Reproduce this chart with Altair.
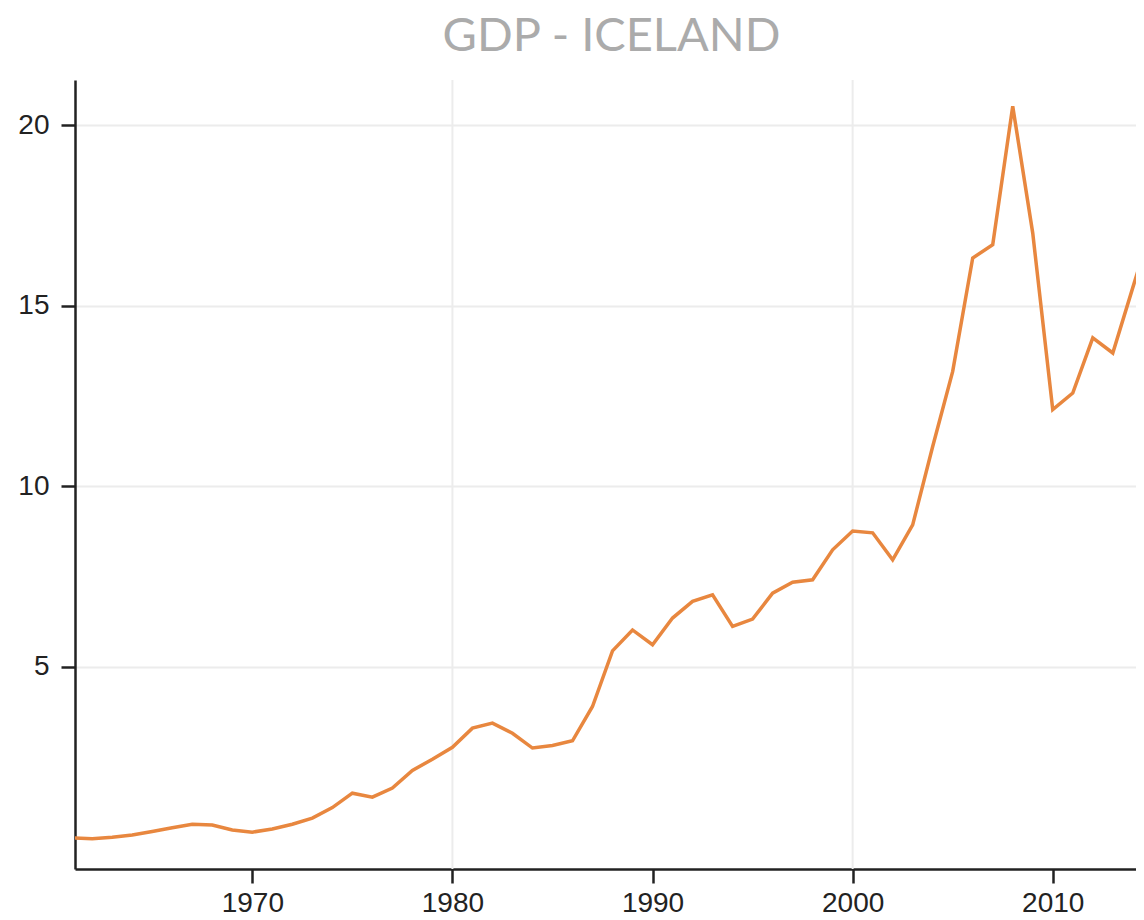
import altair as alt
import pandas as pd

years = list(range(1961, 2016))
gdp = [0.26, 0.24, 0.28, 0.34, 0.44, 0.54, 0.64, 0.62, 0.48, 0.42,
       0.51, 0.64, 0.81, 1.10, 1.50, 1.39, 1.64, 2.13, 2.44, 2.77,
       3.30, 3.44, 3.16, 2.75, 2.82, 2.95, 3.90, 5.44, 6.02, 5.61,
       6.35, 6.81, 6.99, 6.12, 6.32, 7.04, 7.34, 7.41, 8.24, 8.76,
       8.71, 7.96, 8.93, 11.10, 13.18, 16.32, 16.69, 20.52, 17.01, 12.12,
       12.58, 14.11, 13.69, 15.50, 17.30]
x_ticks = [1970, 1980, 1990, 2000, 2010]
x_grid = [1980, 2000]
y_ticks = [5, 10, 15, 20]

df = pd.DataFrame({"year": years, "gdp": gdp})
grid_df = pd.DataFrame({"year": x_grid})

x_scale = alt.Scale(domain=[1961.14, 2014.16], nice=False, zero=False)
y_scale = alt.Scale(domain=[-0.6, 21.25], nice=False, zero=False)
x_axis = alt.Axis(values=x_ticks, format="d", grid=False, title=None,
                  tickSize=14, labelPadding=6)

grid = alt.Chart(grid_df).mark_rule(color="#ececec", strokeWidth=2).encode(
    x=alt.X("year:Q", scale=x_scale, axis=x_axis)
)

line = alt.Chart(df).mark_line(color="#e8873f", strokeWidth=3.5, clip=True).encode(
    x=alt.X("year:Q", scale=x_scale, axis=x_axis),
    y=alt.Y("gdp:Q", scale=y_scale,
            axis=alt.Axis(values=y_ticks, grid=True, title=None,
                          tickSize=14, labelPadding=12)),
)

chart = alt.layer(grid, line).properties(
    width=1061,
    height=789,
    autosize=alt.AutoSizeParams(type="none"),
    padding={"left": 67, "top": 72, "right": 0, "bottom": 50},
    title=alt.TitleParams("GDP - ICELAND", font="Lato", fontWeight="normal",
                          fontSize=47, color="#ababab", anchor="middle",
                          offset=18, dx=6),
).configure_view(stroke=None).configure_axis(
    domainColor="#222222", domainWidth=2.5, tickColor="#222222", tickWidth=2.5,
    labelFont="Liberation Sans", labelFontSize=28, labelColor="#222222",
    gridColor="#ececec", gridWidth=2
)

chart.save("out.html", embed_options={"renderer": "svg", "actions": False})
